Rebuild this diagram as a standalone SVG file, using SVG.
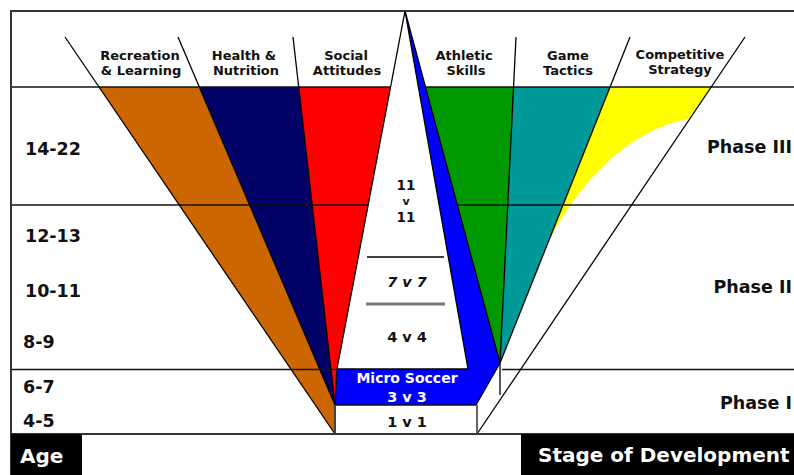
<svg xmlns="http://www.w3.org/2000/svg" width="794" height="475" viewBox="0 0 794 475">
<style>
text{font-family:"DejaVu Sans","Liberation Sans",sans-serif;font-weight:bold;fill:#111}
.hd{font-size:13px;text-anchor:middle}
.age{font-size:17.5px}
.ph{font-size:17.5px;text-anchor:end}
.ctr{font-size:14.5px;text-anchor:middle}
.wt{fill:#fff}
.big{font-size:20px;fill:#fff}
.ln{stroke:#000;stroke-width:1.3;fill:none}
.hl{stroke:#111;stroke-width:1.6;fill:none}
.fr{stroke:#333;stroke-width:2;fill:none}
</style>
<rect width="794" height="475" fill="#fff"/>
<g id="bands">
<polygon points="99,87 199.3,87 335,405 335,434" fill="#CC6600"/>
<polygon points="199.3,87 298.7,87 335,405" fill="#000066"/>
<polygon points="298.7,87 390.6,87 337,369 335,405" fill="#FF0000"/>
<polygon points="405,11 500,363 476,405 335,405 337,369" fill="#0000FF"/>
<polygon points="405,11 337,369 468,369" fill="#fff"/>
<polygon points="425.5,87 513.5,87 500,363" fill="#009900"/>
<polygon points="513.5,87 610,87 500,363" fill="#009999"/>
<path d="M610,87 L711.2,87 L688,119 C640,128 590,165 549,240 Z" fill="#FFFF00"/>
</g>
<g id="connectors">
<line class="hl" x1="11" y1="87" x2="390.6" y2="87"/>
<line class="hl" x1="425.5" y1="87" x2="794" y2="87"/>
<line class="hl" x1="11" y1="205" x2="368.2" y2="205"/>
<line class="hl" x1="457.4" y1="205" x2="794" y2="205"/>
<line class="hl" x1="11" y1="369.5" x2="337" y2="369.5"/>
<line class="hl" x1="502" y1="369.5" x2="794" y2="369.5"/>
<line class="ln" x1="65" y1="37" x2="335" y2="434"/>
<line class="ln" x1="178" y1="37" x2="335" y2="405"/>
<line class="ln" x1="293" y1="37" x2="335" y2="405"/>
<line class="ln" x1="405" y1="11" x2="337" y2="369"/>
<line class="ln" x1="405" y1="11" x2="468" y2="369"/>
<line class="ln" x1="405" y1="11" x2="500" y2="363"/>
<line class="ln" x1="516" y1="37" x2="500" y2="363"/>
<line class="ln" x1="630" y1="37" x2="500" y2="363"/>
<line class="ln" x1="745" y1="37" x2="477" y2="434"/>
<line class="ln" x1="500" y1="363" x2="476" y2="405"/>
<line class="ln" x1="500" y1="363" x2="500" y2="395"/>
<line class="ln" x1="337" y1="369" x2="468" y2="369"/>
<line class="ln" x1="337" y1="369" x2="335" y2="405"/>
<line class="hl" x1="335" y1="405" x2="477" y2="405"/>
<line x1="335" y1="405" x2="335" y2="434" stroke="#444" stroke-width="2"/>
<line x1="477" y1="405" x2="477" y2="434" stroke="#666" stroke-width="2"/>
<line x1="367" y1="257" x2="444" y2="257" stroke="#000" stroke-width="1.5"/>
<line x1="366" y1="304" x2="445" y2="304" stroke="#777" stroke-width="3"/>
</g>
<g id="frame">
<line class="fr" x1="11" y1="11" x2="794" y2="11"/>
<line class="fr" x1="11" y1="10" x2="11" y2="475"/>
<line class="fr" x1="11" y1="434" x2="794" y2="434"/>
<rect x="11" y="434" width="71" height="41" fill="#000"/>
<rect x="521" y="434" width="273" height="41" fill="#000"/>
</g>
<g id="header">
<g id="h-recreation"><text class="hd" x="140" y="60">Recreation</text><text class="hd" x="141" y="75">&amp; Learning</text></g>
<g id="h-health"><text class="hd" x="244" y="60">Health &amp;</text><text class="hd" x="246" y="75">Nutrition</text></g>
<g id="h-social"><text class="hd" x="346" y="60">Social</text><text class="hd" x="347" y="75">Attitudes</text></g>
<g id="h-athletic"><text class="hd" x="464" y="60">Athletic</text><text class="hd" x="466" y="75">Skills</text></g>
<g id="h-game"><text class="hd" x="568" y="60">Game</text><text class="hd" x="568" y="75">Tactics</text></g>
<g id="h-competitive"><text class="hd" x="680" y="59">Competitive</text><text class="hd" x="680" y="74">Strategy</text></g>
</g>
<g id="ages">
<text class="age" x="25" y="155">14-22</text>
<text class="age" x="25" y="242">12-13</text>
<text class="age" x="25" y="297">10-11</text>
<text class="age" x="23" y="348">8-9</text>
<text class="age" x="23" y="393">6-7</text>
<text class="age" x="23" y="427">4-5</text>
</g>
<g id="phases">
<text class="ph" x="792" y="153">Phase III</text>
<text class="ph" x="792" y="293">Phase II</text>
<text class="ph" x="792" y="409">Phase I</text>
</g>
<g id="games">
<text class="ctr" x="406" y="190" style="font-size:13.5px">11</text>
<text class="ctr" x="406" y="205" style="font-size:11px">v</text>
<text class="ctr" x="406" y="222" style="font-size:13.5px">11</text>
<text class="ctr" x="407" y="287" font-style="italic">7 v 7</text>
<text class="ctr" x="407" y="342">4 v 4</text>
<text class="ctr wt" x="407" y="383" style="font-size:14px">Micro Soccer</text>
<text class="ctr wt" x="407" y="402">3 v 3</text>
<text class="ctr" x="407" y="427">1 v 1</text>
</g>
<g id="footer">
<text class="big" x="20" y="463">Age</text>
<text class="big" x="538" y="462">Stage of Development</text>
</g>
</svg>
